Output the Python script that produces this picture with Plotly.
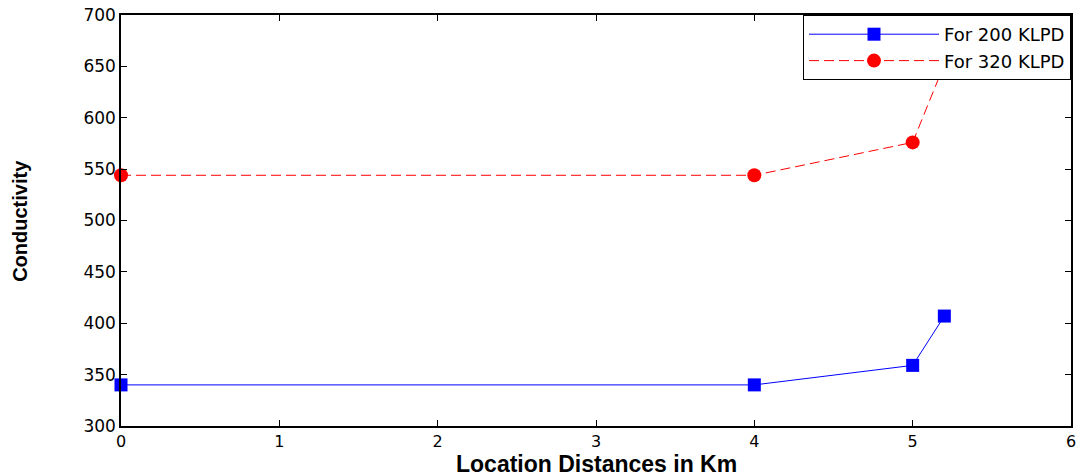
import plotly.graph_objects as go

distance_km = [0, 4, 5, 5.2]
cond_200 = [340, 340, 359, 407]
cond_320 = [544, 544, 576, 652]
series_names = ["For 200 KLPD", "For 320 KLPD"]
x_ticks = [0, 1, 2, 3, 4, 5, 6]
y_ticks = [300, 350, 400, 450, 500, 550, 600, 650, 700]

fig = go.Figure()
fig.add_trace(go.Scatter(
    x=distance_km, y=cond_200, name=series_names[0], mode="lines+markers",
    line=dict(color="#0000ff", width=1),
    marker=dict(symbol="square", size=13, color="#0000ff"),
    cliponaxis=False,
))
fig.add_trace(go.Scatter(
    x=distance_km, y=cond_320, name=series_names[1], mode="lines+markers",
    line=dict(color="#ff0000", width=1, dash="10px,5px"),
    marker=dict(symbol="circle", size=14, color="#ff0000"),
    cliponaxis=False,
))

axis_common = dict(
    showgrid=False, zeroline=False, showline=True, linecolor="black", linewidth=1.5,
    mirror="ticks", ticks="inside", ticklen=6, tickcolor="black", tickwidth=1,
    tickfont=dict(family="DejaVu Sans", size=17, color="black"),
    automargin=False,
)
fig.update_xaxes(range=[0, 6], tickvals=x_ticks,
                 tickfont=dict(family="DejaVu Sans", size=16, color="black"),
                 **{k: v for k, v in axis_common.items() if k != "tickfont"})
fig.update_yaxes(range=[300, 700], tickvals=y_ticks, **axis_common)

fig.add_annotation(
    text="<b>Location Distances in Km</b>", xref="paper", yref="paper",
    x=0.5, y=-0.093, xanchor="center", yanchor="middle", showarrow=False,
    font=dict(family="Liberation Sans", size=23, color="black"),
)
fig.add_annotation(
    text="<b>Conductivity</b>", xref="paper", yref="paper",
    x=-0.107, y=0.5, xanchor="center", yanchor="middle", showarrow=False,
    textangle=-90,
    font=dict(family="Liberation Sans", size=20, color="black"),
)

fig.update_layout(
    width=1083, height=475,
    margin=dict(l=121, r=12, t=15, b=49),
    paper_bgcolor="white", plot_bgcolor="white",
    showlegend=True,
    legend=dict(x=1, y=1, xanchor="right", yanchor="top",
                bordercolor="black", borderwidth=1, bgcolor="white",
                font=dict(family="DejaVu Sans", size=18, color="black"),
                tracegroupgap=0, itemwidth=130),
)
fig.write_html("out.html")
